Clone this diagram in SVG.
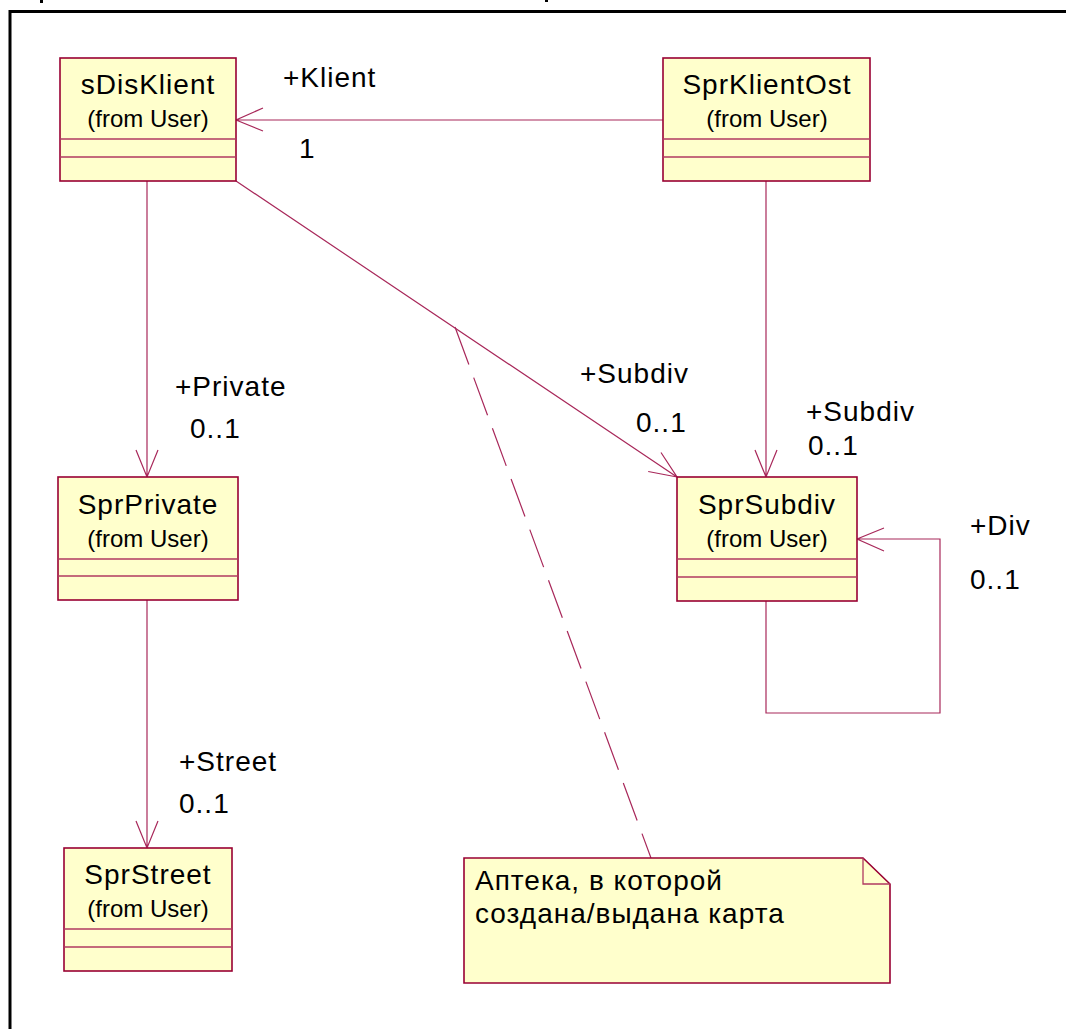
<svg xmlns="http://www.w3.org/2000/svg" width="1066" height="1029" viewBox="0 0 1066 1029">
<style>
.box{fill:#FFFFCC;stroke:#990033;stroke-width:1.6}
.sep{stroke:#B03A60;stroke-width:1.3}
.name{font-family:"Liberation Sans",Arial,sans-serif;font-size:28px;letter-spacing:1px;text-anchor:middle;fill:#000}
.from{font-family:"Liberation Sans",Arial,sans-serif;font-size:24px;text-anchor:middle;fill:#000}
.lbl{font-family:"Liberation Sans",Arial,sans-serif;font-size:28px;letter-spacing:1px;fill:#000}
.note{font-family:"Liberation Sans",Arial,sans-serif;font-size:28px;letter-spacing:1px;fill:#000}
.con{fill:none;stroke:#A8285A;stroke-width:1.2}
</style>
<rect width="1066" height="1029" fill="#fff"/>
<g id="frame">
<rect x="40" y="0" width="3" height="3" fill="#000"/>
<rect x="545" y="0" width="3" height="2" fill="#000"/>
<path d="M10 1029 V11.5 H1066" fill="none" stroke="#000" stroke-width="3"/>
</g>
<g id="connectors">
<path class="con" d="M663 120 H236 M263 108 L236 120 L263 131"/>
<path class="con" d="M147 181 V477 M136 450 L147 477 L158 450"/>
<path class="con" d="M147 600 V848 M136 821 L147 848 L158 821"/>
<path class="con" d="M766 181 V477 M755 450 L766 477 L777 450"/>
<path class="con" d="M236 181 L677 477 M648.2 471.5 L677 477 L661 452.5"/>
<path class="con" d="M766 601 V713 H940 V539 H857 M884 528 L857 539 L884 551"/>
<path class="con" d="M455 327 L651 858" stroke-dasharray="40 14"/>
</g>
<g id="labels">
<text class="lbl" x="283" y="87">+Klient</text>
<text class="lbl" x="299" y="158">1</text>
<text class="lbl" x="175" y="396">+Private</text>
<text class="lbl" x="190" y="438">0..1</text>
<text class="lbl" x="580" y="383">+Subdiv</text>
<text class="lbl" x="636" y="432">0..1</text>
<text class="lbl" x="806" y="421">+Subdiv</text>
<text class="lbl" x="808" y="455">0..1</text>
<text class="lbl" x="970" y="535">+Div</text>
<text class="lbl" x="970" y="589">0..1</text>
<text class="lbl" x="179" y="771">+Street</text>
<text class="lbl" x="179" y="813">0..1</text>
</g>
<g id="sDisKlient">
<rect class="box" x="60" y="58" width="176" height="123"/>
<line class="sep" x1="60" y1="139" x2="236" y2="139"/>
<line class="sep" x1="60" y1="157" x2="236" y2="157"/>
<text class="name" x="148" y="94">sDisKlient</text>
<text class="from" x="148" y="127">(from User)</text>
</g>
<g id="SprKlientOst">
<rect class="box" x="663" y="58" width="207" height="123"/>
<line class="sep" x1="663" y1="139" x2="870" y2="139"/>
<line class="sep" x1="663" y1="157" x2="870" y2="157"/>
<text class="name" x="767" y="94">SprKlientOst</text>
<text class="from" x="767" y="127">(from User)</text>
</g>
<g id="SprPrivate">
<rect class="box" x="58" y="477" width="180" height="123"/>
<line class="sep" x1="58" y1="559" x2="238" y2="559"/>
<line class="sep" x1="58" y1="576" x2="238" y2="576"/>
<text class="name" x="148" y="514">SprPrivate</text>
<text class="from" x="148" y="547">(from User)</text>
</g>
<g id="SprSubdiv">
<rect class="box" x="677" y="477" width="180" height="124"/>
<line class="sep" x1="677" y1="559" x2="857" y2="559"/>
<line class="sep" x1="677" y1="577" x2="857" y2="577"/>
<text class="name" x="767" y="514">SprSubdiv</text>
<text class="from" x="767" y="547">(from User)</text>
</g>
<g id="SprStreet">
<rect class="box" x="64" y="848" width="168" height="123"/>
<line class="sep" x1="64" y1="929" x2="232" y2="929"/>
<line class="sep" x1="64" y1="947" x2="232" y2="947"/>
<text class="name" x="148" y="884">SprStreet</text>
<text class="from" x="148" y="917">(from User)</text>
</g>
<g id="note">
<path class="box" d="M464 858 H863 L890 884 V983 H464 Z"/>
<path class="sep" fill="none" d="M863 858 V884 H890"/>
<text class="note" x="475" y="890">Аптека, в которой</text>
<text class="note" x="475" y="923">создана/выдана карта</text>
</g>
</svg>
